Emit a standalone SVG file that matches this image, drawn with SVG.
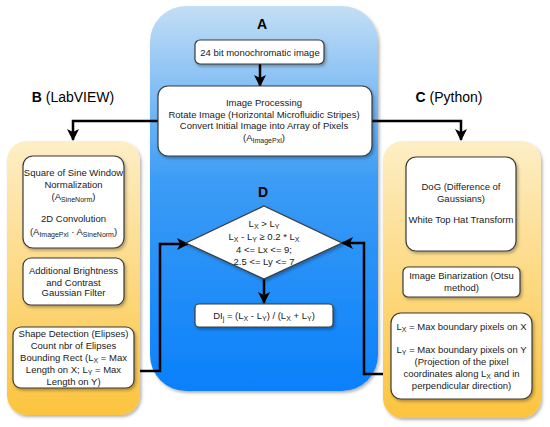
<svg xmlns="http://www.w3.org/2000/svg" width="550" height="427" viewBox="0 0 550 427">
<defs>
<linearGradient id="gBlue" x1="0" y1="0" x2="0" y2="1">
<stop offset="0" stop-color="#c4def4"/>
<stop offset="0.45" stop-color="#3c9cf5"/>
<stop offset="1" stop-color="#0a80fb"/>
</linearGradient>
<linearGradient id="gYel" x1="0" y1="0" x2="0" y2="1">
<stop offset="0" stop-color="#fdeec6"/>
<stop offset="1" stop-color="#fcc43e"/>
</linearGradient>
<filter id="sh" x="-10%" y="-10%" width="130%" height="130%">
<feDropShadow dx="1.5" dy="2" stdDeviation="1.5" flood-color="#000" flood-opacity="0.3"/>
</filter>
<marker id="ah" markerWidth="12" markerHeight="12" refX="11" refY="6" orient="auto" markerUnits="userSpaceOnUse">
<path d="M0,0 L12,6 L0,12 L3,6 Z" fill="#000"/>
</marker>
</defs>
<style>
text{font-family:"Liberation Sans",Arial,sans-serif;font-size:9.5px;fill:#1a1a1a;text-anchor:middle}
.title{font-size:14px;fill:#000}
.bold{font-weight:bold}
.box{fill:#fff;stroke:#3a3a3a;stroke-width:1.2;filter:url(#sh)}
.cont{filter:url(#sh)}
.con{fill:none;stroke:#000;stroke-width:2.5;marker-end:url(#ah)}
.s{font-size:7px}
</style>

<g id="A">
<rect class="cont" x="150" y="6" width="228" height="385" rx="36" fill="url(#gBlue)"/>
<text class="title bold" x="262" y="29">A</text>
</g>
<g id="B">
<rect class="cont" x="7" y="141" width="133" height="274" rx="20" fill="url(#gYel)"/>
</g>
<g id="C">
<rect class="cont" x="383" y="141" width="158" height="277" rx="20" fill="url(#gYel)"/>
</g>
<text class="title" x="73" y="102"><tspan class="bold">B</tspan> (LabVIEW)</text>
<text class="title" x="449" y="102"><tspan class="bold">C</tspan> (Python)</text>

<g id="connectors">
<line class="con" x1="260" y1="64" x2="260" y2="86"/>
<polyline class="con" points="158,121 73,121 73,140"/>
<polyline class="con" points="372,121 461,121 461,140"/>
<polyline class="con" points="140,371 160,371 160,244 188,244"/>
<polyline class="con" points="383,374 364,374 364,243 342,243"/>
<line class="con" x1="264" y1="279" x2="264" y2="303"/>
</g>

<g id="n24bit">
<rect class="box" x="195" y="40" width="129" height="24" rx="5"/>
<text x="260" y="55.5">24 bit monochromatic image</text>
</g>
<g id="proc">
<rect class="box" x="158" y="86" width="214" height="70" rx="10"/>
<text x="264" y="106">Image Processing</text>
<text x="264" y="117.5">Rotate Image (Horizontal Microfluidic Stripes)</text>
<text x="264" y="129">Convert Initial Image into Array of Pixels</text>
<text x="264" y="141">(A<tspan class="s" dy="2">ImagePxl</tspan><tspan dy="-2">)</tspan></text>
</g>
<text class="title bold" x="263" y="197">D</text>
<g id="diamond">
<polygon class="box" points="264,206 342,243 264,279 186,243"/>
<text x="264" y="227">L<tspan class="s" dy="2">X</tspan><tspan dy="-2"> &gt; L</tspan><tspan class="s" dy="2">Y</tspan></text>
<text x="264" y="240">L<tspan class="s" dy="2">X</tspan><tspan dy="-2"> - L</tspan><tspan class="s" dy="2">Y</tspan><tspan dy="-2"> ≥ 0.2 * L</tspan><tspan class="s" dy="2">X</tspan></text>
<text x="264" y="253">4 &lt;= Lx &lt;= 9;</text>
<text x="264" y="265">2.5 &lt;= Ly &lt;= 7</text>
</g>
<g id="di">
<rect class="box" x="195" y="304" width="138" height="23" rx="4"/>
<text x="264" y="319">DI<tspan class="s" dy="2">j</tspan><tspan dy="-2"> = (L</tspan><tspan class="s" dy="2">X</tspan><tspan dy="-2"> - L</tspan><tspan class="s" dy="2">Y</tspan><tspan dy="-2">) / (L</tspan><tspan class="s" dy="2">X</tspan><tspan dy="-2"> + L</tspan><tspan class="s" dy="2">Y</tspan><tspan dy="-2">)</tspan></text>
</g>

<g id="b1">
<rect class="box" x="23" y="156" width="101" height="92" rx="10"/>
<text x="73.5" y="176">Square of Sine Window</text>
<text x="73.5" y="187.5">Normalization</text>
<text x="73.5" y="200">(A<tspan class="s" dy="2">SineNorm</tspan><tspan dy="-2">)</tspan></text>
<text x="73.5" y="222">2D Convolution</text>
<text x="73.5" y="235">(A<tspan class="s" dy="2">ImagePxl</tspan><tspan dy="-2"> · A</tspan><tspan class="s" dy="2">SineNorm</tspan><tspan dy="-2">)</tspan></text>
</g>
<g id="b2">
<rect class="box" x="23" y="258" width="101" height="47" rx="8"/>
<text x="73.5" y="274">Additional Brightness</text>
<text x="73.5" y="285.5">and Contrast</text>
<text x="73.5" y="296">Gaussian Filter</text>
</g>
<g id="b3">
<rect class="box" x="13" y="327" width="121" height="61" rx="8"/>
<text x="73.5" y="336.5">Shape Detection (Elipses)</text>
<text x="73.5" y="348.5">Count nbr of Elipses</text>
<text x="73.5" y="360.5">Bounding Rect (L<tspan class="s" dy="2">X</tspan><tspan dy="-2"> = Max</tspan></text>
<text x="73.5" y="372.5">Length on X; L<tspan class="s" dy="2">Y</tspan><tspan dy="-2"> = Max</tspan></text>
<text x="73.5" y="384.5">Length on Y)</text>
</g>

<g id="c1">
<rect class="box" x="406" y="157" width="110" height="94" rx="10"/>
<text x="461" y="190">DoG (Difference of</text>
<text x="461" y="201.5">Gaussians)</text>
<text x="461" y="223">White Top Hat Transform</text>
</g>
<g id="c2">
<rect class="box" x="403" y="267" width="117" height="30" rx="5"/>
<text x="461.5" y="279">Image Binarization (Otsu</text>
<text x="461.5" y="290.5">method)</text>
</g>
<g id="c3">
<rect class="box" x="391" y="313" width="141" height="86" rx="10"/>
<text x="461.5" y="329.5">L<tspan class="s" dy="2">X</tspan><tspan dy="-2"> = Max boundary pixels on X</tspan></text>
<text x="461.5" y="352.5">L<tspan class="s" dy="2">Y</tspan><tspan dy="-2"> = Max boundary pixels on Y</tspan></text>
<text x="461.5" y="364.5">(Projection of the pixel</text>
<text x="461.5" y="376.5">coordinates along L<tspan class="s" dy="2">X</tspan><tspan dy="-2"> and in</tspan></text>
<text x="461.5" y="388.5">perpendicular direction)</text>
</g>
</svg>
